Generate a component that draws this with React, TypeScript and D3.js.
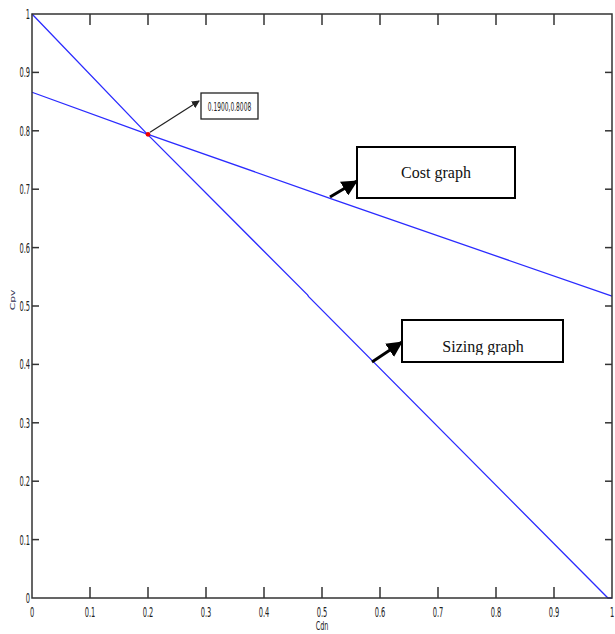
import React from "react";
import * as d3 from "d3";

const xTicks = [0, 0.1, 0.2, 0.3, 0.4, 0.5, 0.6, 0.7, 0.8, 0.9, 1];
const yTicks = [0, 0.1, 0.2, 0.3, 0.4, 0.5, 0.6, 0.7, 0.8, 0.9, 1];
const tickLabels = ["0", "0.1", "0.2", "0.3", "0.4", "0.5", "0.6", "0.7", "0.8", "0.9", "1"];

// Sizing graph (Cdn, Cpv)
const sizingX = [0, 0.2, 0.475, 0.477, 0.993, 1];
const sizingY = [1, 0.793, 0.519, 0.516, 0, 0];
// Cost graph
const costX = [0, 0.2, 0.515, 0.52, 1];
const costY = [0.866, 0.794, 0.684, 0.682, 0.517];

const markerPoint = [0.2, 0.794];
const markerLabel = "0.1900,0.8008";
const xLabel = "Cdn";
const yLabel = "Cpv";
const costLabel = "Cost graph";
const sizingLabel = "Sizing graph";

const W = 615, H = 634;
const L = 32, R = 612, T = 14, B = 598;

export default function App() {
  const x = d3.scaleLinear().domain([0, 1]).range([L, R]);
  const y = d3.scaleLinear().domain([0, 1]).range([B, T]);
  const line = d3.line<[number, number]>().x(d => x(d[0])).y(d => y(d[1]));
  const sizing = sizingX.map((v, i) => [v, sizingY[i]] as [number, number]);
  const cost = costX.map((v, i) => [v, costY[i]] as [number, number]);
  const mx = x(markerPoint[0]), my = y(markerPoint[1]);
  const blue = "#2b2bff";
  const axisColor = "#333";
  const narrow = "'Liberation Sans Narrow', 'DejaVu Sans Condensed', 'Liberation Sans', sans-serif";

  return (
    <div style={{ position: "absolute", left: 0, top: 0 }}>
      <svg width={W} height={H} style={{ display: "block", background: "#fff" }}>
        <defs>
          <marker id="ah" markerWidth="8" markerHeight="8" refX="7" refY="4" orient="auto" markerUnits="userSpaceOnUse">
            <path d="M0,0 L8,4 L0,8 Z" fill="#222" />
          </marker>
          <marker id="ahBig" markerWidth="16" markerHeight="16" refX="15" refY="8" orient="auto" markerUnits="userSpaceOnUse">
            <path d="M0,0 L16,8 L0,16 Z" fill="#000" />
          </marker>
          <clipPath id="sizingClip">
            <rect x={402} y={320} width={162} height={35} />
          </clipPath>
        </defs>

        {/* data lines */}
        <path d={line(sizing) || ""} fill="none" stroke={blue} strokeWidth={1.3} />
        <path d={line(cost) || ""} fill="none" stroke={blue} strokeWidth={1.3} />

        {/* axes box */}
        <rect x={L} y={T} width={R - L} height={B - T} fill="none" stroke={axisColor} strokeWidth={1.5} />

        {/* x ticks */}
        {xTicks.map((t, i) => (
          <g key={"x" + i}>
            {i > 0 && i < xTicks.length - 1 && (
              <>
                <line x1={x(t)} x2={x(t)} y1={B} y2={B - 11} stroke={axisColor} strokeWidth={1.5} />
                <line x1={x(t)} x2={x(t)} y1={T} y2={T + 11} stroke={axisColor} strokeWidth={1.5} />
              </>
            )}
            <text x={0} y={0} transform={`translate(${x(t)},${B + 19}) scale(0.55,1)`} textAnchor="middle"
              fontFamily={narrow} fontSize={13.5} fill="#222">{tickLabels[i]}</text>
          </g>
        ))}

        {/* y ticks */}
        {yTicks.map((t, i) => (
          <g key={"y" + i}>
            {i > 0 && i < yTicks.length - 1 && (
              <>
                <line x1={L} x2={L + 7} y1={y(t)} y2={y(t)} stroke={axisColor} strokeWidth={1.5} />
                <line x1={R} x2={R - 7} y1={y(t)} y2={y(t)} stroke={axisColor} strokeWidth={1.5} />
              </>
            )}
            <text x={0} y={0} transform={`translate(${L - 2},${y(t) + 5}) scale(0.55,1)`} textAnchor="end"
              fontFamily={narrow} fontSize={13.5} fill="#222">{tickLabels[i]}</text>
          </g>
        ))}

        {/* axis labels */}
        <text transform={`translate(${(L + R) / 2},${630}) scale(0.6,1)`} textAnchor="middle"
          fontFamily={narrow} fontSize={12} fill="#222">{xLabel}</text>
        <text transform={`translate(${15},${300}) rotate(-90) scale(1,0.6)`} textAnchor="middle"
          fontFamily={narrow} fontSize={12} fill="#335">{yLabel}</text>

        {/* marker point */}
        <circle cx={mx} cy={my} r={2.4} fill="#e00" />

        {/* data tip */}
        <line x1={mx + 2} y1={my - 2} x2={199} y2={101} stroke="#222" strokeWidth={1.2} markerEnd="url(#ah)" />
        <rect x={201} y={93} width={57} height={26} fill="#fff" stroke="#222" strokeWidth={1.3} />
        <text transform={`translate(${229.5},${110.5}) scale(0.55,1)`} textAnchor="middle"
          fontFamily={narrow} fontSize={12} fill="#222">{markerLabel}</text>

        {/* Cost graph callout */}
        <line x1={330} y1={197} x2={357} y2={181} stroke="#000" strokeWidth={3} markerEnd="url(#ahBig)" />
        <rect x={357} y={147} width={158} height={51} fill="#fff" stroke="#000" strokeWidth={2} />
        <text x={436} y={178} textAnchor="middle" fontFamily="'Liberation Serif', 'Times New Roman', serif"
          fontSize={16} fill="#111">{costLabel}</text>

        {/* Sizing graph callout */}
        <line x1={372} y1={362} x2={402} y2={342} stroke="#000" strokeWidth={3} markerEnd="url(#ahBig)" />
        <rect x={402} y={320} width={161} height={42} fill="#fff" stroke="#000" strokeWidth={2} />
        <text x={483} y={352} textAnchor="middle" clipPath="url(#sizingClip)"
          fontFamily="'Liberation Serif', 'Times New Roman', serif" fontSize={16} fill="#111">{sizingLabel}</text>
      </svg>
    </div>
  );
}
